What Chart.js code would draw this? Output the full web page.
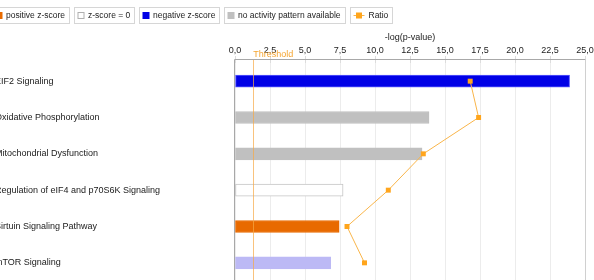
<!DOCTYPE html>
<html>
<head>
<meta charset="utf-8">
<script src="https://cdn.jsdelivr.net/npm/chart.js@4.4.1/dist/chart.umd.min.js"></script>
<style>
  html, body { margin: 0; padding: 0; background: #fff; overflow: hidden; }
  #wrap { width: 599px; height: 280px; margin-left: -5px; overflow: hidden; }
</style>
</head>
<body>
<div id="wrap"><canvas id="pathwayChart" width="599" height="285"></canvas></div>
<script>
// pathway data
const pathways = [
  "EIF2 Signaling",
  "Oxidative Phosphorylation",
  "Mitochondrial Dysfunction",
  "Regulation of eIF4 and p70S6K Signaling",
  "Sirtuin Signaling Pathway",
  "mTOR Signaling",
];
const logP = [23.9, 13.86, 13.36, 7.72, 7.44, 6.84];
const ratio = [0.336, 0.348, 0.269, 0.219, 0.16, 0.185];
const zClass = ["negative", "none", "none", "zero", "positive", "lightNegative"];
const tickValues = [0, 2.5, 5, 7.5, 10, 12.5, 15, 17.5, 20, 22.5, 25];
const threshold = 1.3;

const legendLabels = ["positive z-score", "z-score = 0", "negative z-score", "no activity pattern available", "Ratio"];
const legendKinds = ["positive", "zero", "negative", "none", "ratio"];

const zFill = {
  positive: "#e86a00",
  zero: "#ffffff",
  negative: "#0000e6",
  none: "#c0c0c0",
  lightNegative: "#bcb9f5",
};
const zBorder = {
  positive: "#e86a00",
  zero: "#c4c4c4",
  negative: "#5a5aff",
  none: "#c0c0c0",
  lightNegative: "#bcb9f5",
};
const ratioColor = "#ffa51c";
const ratioLine = "#f9b54a";
const textFont = "Liberation Sans, Arial, sans-serif";

const fmt = (v) => v.toFixed(1).replace(".", ",");

const overlay = {
  id: "overlay",
  beforeDraw(chart) {
    // boxed legend at the top
    const ctx = chart.ctx;
    ctx.save();
    ctx.font = "8.5px " + textFont;
    ctx.textBaseline = "middle";
    let x = -3.5;
    const top = 7.5, h = 16, cy = 15.5;
    legendLabels.forEach((label, i) => {
      const kind = legendKinds[i];
      const tw = ctx.measureText(label).width;
      const markW = kind === "ratio" ? 11 : 7;
      const gap = kind === "ratio" ? 4 : 3.5;
      const w = 3.5 + markW + gap + tw + 4;
      ctx.strokeStyle = "#d6d6d6";
      ctx.lineWidth = 1;
      ctx.strokeRect(Math.round(x) + 0.5, top, Math.round(w), h);
      const mx = Math.round(x) + 3.5;
      if (kind === "ratio") {
        ctx.strokeStyle = ratioLine;
        ctx.beginPath();
        ctx.moveTo(mx, cy);
        ctx.lineTo(mx + markW, cy);
        ctx.stroke();
        ctx.fillStyle = ratioColor;
        ctx.fillRect(mx + markW / 2 - 3, cy - 3, 6, 6);
      } else {
        ctx.fillStyle = zFill[kind];
        ctx.fillRect(mx, cy - 3.5, 7, 7);
        if (kind === "zero") {
          ctx.strokeStyle = "#b0b0b0";
          ctx.strokeRect(mx + 0.5, cy - 3, 6, 6);
        }
      }
      ctx.fillStyle = "#222";
      ctx.fillText(label, mx + markW + gap, cy);
      x += w + 5;
    });
    ctx.restore();
  },
  afterDatasetsDraw(chart) {
    // threshold line
    const { ctx, chartArea, scales } = chart;
    const tx = Math.round(scales.x.getPixelForValue(threshold)) + 0.5;
    ctx.save();
    ctx.strokeStyle = "rgba(247, 170, 70, 0.7)";
    ctx.lineWidth = 1;
    ctx.beginPath();
    ctx.moveTo(tx, chartArea.top - 4);
    ctx.lineTo(tx, chartArea.bottom);
    ctx.stroke();
    ctx.restore();
  },
  afterDraw(chart) {
    const { ctx, chartArea, scales } = chart;
    const y0 = chartArea.top - 4;
    const l = Math.round(chartArea.left) - 0.5;
    const r = Math.round(chartArea.right) + 0.5;
    ctx.save();
    ctx.lineWidth = 1;
    ctx.strokeStyle = "#a8a8a8";
    ctx.beginPath();
    ctx.moveTo(l, chartArea.bottom);
    ctx.lineTo(l, y0 + 0.5);
    ctx.lineTo(r, y0 + 0.5);
    ctx.stroke();
    ctx.strokeStyle = "#d0d0d0";
    ctx.beginPath();
    ctx.moveTo(r, y0 + 0.5);
    ctx.lineTo(r, chartArea.bottom);
    ctx.stroke();
    // threshold label
    const tx = scales.x.getPixelForValue(threshold);
    ctx.font = "9px " + textFont;
    ctx.fillStyle = "#f5a531";
    ctx.textBaseline = "middle";
    ctx.fillText("Threshold", tx, 54.5);
    ctx.restore();
  },
};

const ctx = document.getElementById("pathwayChart").getContext("2d");
new Chart(ctx, {
  type: "bar",
  data: {
    labels: pathways,
    datasets: [
      {
        type: "line",
        label: "Ratio",
        data: ratio,
        xAxisID: "x2",
        borderColor: ratioLine,
        borderWidth: 1,
        pointStyle: "rect",
        pointRadius: 3.5,
        pointBackgroundColor: ratioColor,
        pointBorderColor: ratioColor,
        pointBorderWidth: 0,
        order: 0,
      },
      {
        label: "-log(p-value)",
        data: logP,
        xAxisID: "x",
        backgroundColor: zClass.map((c) => zFill[c]),
        borderColor: zClass.map((c) => zBorder[c]),
        borderWidth: 1,
        borderSkipped: false,
        barThickness: 12,
        order: 1,
      },
    ],
  },
  plugins: [overlay],
  options: {
    indexAxis: "y",
    responsive: false,
    animation: false,
    devicePixelRatio: 1,
    layout: { padding: { top: 28, right: 9, bottom: 0, left: 0 } },
    plugins: {
      legend: { display: false },
      tooltip: { enabled: false },
    },
    scales: {
      x: {
        position: "top",
        min: 0,
        max: 25,
        afterBuildTicks: (scale) => {
          scale.ticks = tickValues.map((v) => ({ value: v }));
        },
        afterFit: (scale) => {
          scale.height = 35;
          scale.paddingLeft = 0;
          scale.paddingRight = 0;
        },
        border: { display: false },
        grid: { color: "#ececec", tickLength: 7, tickColor: "#dcdcdc" },
        ticks: {
          padding: 0,
          color: "#222",
          font: { family: textFont, size: 9 },
          callback: (v) => fmt(v),
        },
        title: {
          display: true,
          text: "-log(p-value)",
          color: "#222",
          font: { family: textFont, size: 9 },
          padding: { top: 4, bottom: 0 },
        },
      },
      x2: {
        display: false,
        min: 0,
        max: 0.5,
      },
      y: {
        afterFit: (scale) => {
          scale.width = 240;
          scale.paddingTop = 0;
          scale.paddingBottom = 0;
        },
        border: { display: false },
        grid: { display: false },
        ticks: {
          padding: 0,
          crossAlign: "far",
          color: "#1a1a1a",
          font: { family: textFont, size: 9 },
        },
      },
    },
  },
});
</script>
</body>
</html>
